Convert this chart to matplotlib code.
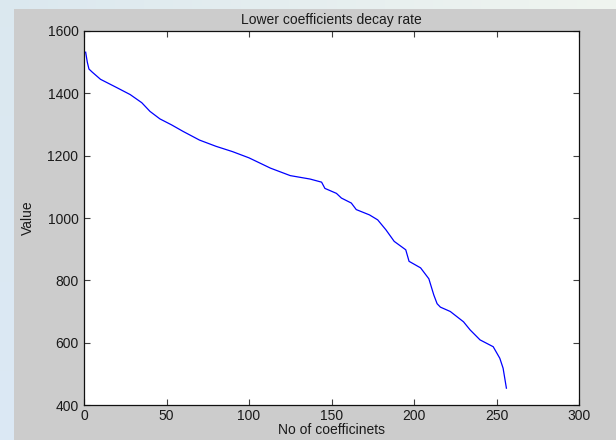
import numpy as np
import matplotlib
matplotlib.use("Agg")
import matplotlib.pyplot as plt
from matplotlib.patches import Rectangle

# Sorted magnitudes of the lower-band coefficients
coef_index = [1, 2, 3, 5, 10, 20, 28, 35, 40, 46, 53, 60, 70, 80, 90, 100,
              113, 125, 137, 144, 146, 153, 156, 162, 165, 173, 178, 183, 188,
              195, 197, 204, 209, 212, 214, 216, 222, 230, 234, 240, 248, 252,
              254, 256]
coef_value = [1532, 1500, 1478, 1468, 1445, 1418, 1396, 1370, 1342, 1318,
              1299, 1278, 1250, 1230, 1213, 1193, 1160, 1136, 1125, 1115,
              1095, 1079, 1064, 1048, 1027, 1010, 994, 962, 925, 898, 861,
              840, 805, 753, 725, 714, 700, 667, 641, 609, 587, 550, 518, 454]

x_ticks = [0, 50, 100, 150, 200, 250, 300]
y_ticks = [400, 600, 800, 1000, 1200, 1400, 1600]

plt.rcParams['font.family'] = ['Liberation Sans', 'DejaVu Sans']

fig = plt.figure(figsize=(6.16, 4.4), dpi=100)

# pale backdrop behind the figure window
bg = fig.add_axes([0, 0, 1, 1], zorder=-10)
gy, gx = np.mgrid[0:1:64j, 0:1:64j]
shade = np.dstack([0.86 + 0.08 * gx * (1 - gy),
                   0.91 + 0.05 * gx * (1 - gy),
                   0.94 + 0.02 * gy])
bg.imshow(np.clip(shade, 0, 1), extent=[0, 1, 0, 1], aspect='auto', origin='upper')
bg.set_axis_off()

# grey figure window
fig.patches.append(Rectangle((14 / 616, 0), 1 - 14 / 616, 1 - 9 / 440,
                             transform=fig.transFigure, facecolor='#cccccc',
                             edgecolor='none', zorder=-5))

ax = fig.add_axes([84 / 616, 1 - 405 / 440, (579 - 84) / 616, (405 - 31) / 440])
ax.set_facecolor('white')
ax.plot(coef_index, coef_value, color='#0000ff', linewidth=0.9)

ax.set_xlim(0, 300)
ax.set_ylim(400, 1600)
ax.set_xticks(x_ticks)
ax.set_yticks(y_ticks)
ax.tick_params(direction='in', length=4.5, width=0.8, color='#404040',
               top=True, right=True, labelsize=10, labelcolor='#1a1a1a', pad=4)
ax.tick_params(axis='x', pad=3)
for s in ax.spines.values():
    s.set_color('#111111')
    s.set_linewidth(0.9)

ax.set_title('Lower coefficients decay rate', fontsize=10, color='#1a1a1a', pad=5)
ax.set_xlabel('No of coefficinets', fontsize=10, color='#1a1a1a', labelpad=0)
ax.set_ylabel('Value', fontsize=10, color='#1a1a1a', labelpad=9)

fig.savefig('out.png', dpi=100)
